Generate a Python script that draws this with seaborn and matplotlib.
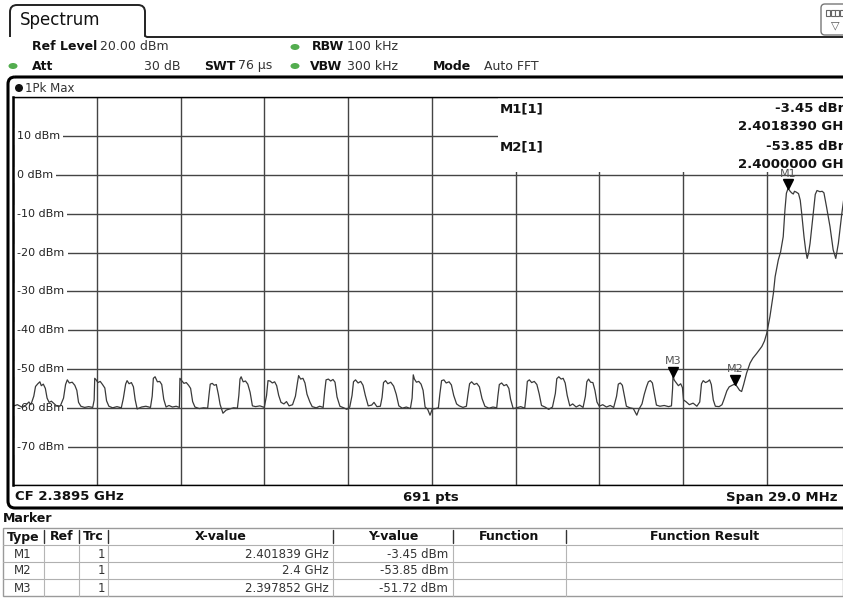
import matplotlib
matplotlib.use("Agg")
import matplotlib.pyplot as plt
import matplotlib.transforms as mtransforms
from matplotlib.patches import FancyBboxPatch, Rectangle, Ellipse, Circle, PathPatch
from matplotlib.path import Path
import numpy as np
import pandas as pd
import seaborn as sns

# ---- sweep settings -------------------------------------------------------
center_ghz = 2.3895
span_mhz = 29.0
ref_level_dbm = 20.0
n_points = 691
level_ticks = [10, 0, -10, -20, -30, -40, -50, -60, -70]

# ---- 1Pk Max trace (MHz, dBm) ---------------------------------------------
freq_mhz = [
    2375.00, 2375.15, 2375.30, 2375.45, 2375.55, 2375.62,
    2375.72, 2375.78, 2375.86, 2375.93, 2375.98, 2376.05, 2376.12, 2376.18, 2376.25, 2376.33, 2376.42, 2376.52, 2376.64,
    2376.75, 2376.82, 2376.88, 2376.95, 2377.05, 2377.14, 2377.21, 2377.27, 2377.35, 2377.48, 2377.62, 2377.76,
    2377.81, 2377.83, 2377.88, 2377.94, 2378.02, 2378.10, 2378.18, 2378.24, 2378.32, 2378.45, 2378.60, 2378.75,
    2378.82, 2378.90, 2378.95, 2379.02, 2379.10, 2379.17, 2379.23, 2379.30, 2379.45, 2379.60, 2379.76,
    2379.82, 2379.86, 2379.92, 2380.00, 2380.08, 2380.15, 2380.22, 2380.30, 2380.40, 2380.52, 2380.65, 2380.76,
    2380.78, 2380.84, 2380.92, 2381.00, 2381.08, 2381.15, 2381.22, 2381.30, 2381.45, 2381.60, 2381.74,
    2381.79, 2381.83, 2381.90, 2381.97, 2382.04, 2382.11, 2382.17, 2382.27, 2382.38, 2382.50, 2382.64, 2382.77,
    2382.82, 2382.86, 2382.90, 2382.97, 2383.05, 2383.13, 2383.21, 2383.29, 2383.40, 2383.55, 2383.70,
    2383.78, 2383.83, 2383.90, 2383.98, 2384.06, 2384.13, 2384.20, 2384.28, 2384.38, 2384.47, 2384.56, 2384.68,
    2384.78, 2384.85, 2384.89, 2384.96, 2385.04, 2385.11, 2385.18, 2385.28, 2385.36, 2385.50, 2385.62, 2385.74,
    2385.79, 2385.84, 2385.92, 2386.00, 2386.08, 2386.15, 2386.22, 2386.32, 2386.45, 2386.56, 2386.66,
    2386.74, 2386.79, 2386.86, 2386.95, 2387.04, 2387.12, 2387.20, 2387.30, 2387.42, 2387.50, 2387.60, 2387.72,
    2387.78, 2387.83, 2387.90, 2387.98, 2388.08, 2388.18, 2388.27, 2388.36, 2388.48, 2388.62, 2388.76,
    2388.82, 2388.86, 2388.90, 2388.97, 2389.05, 2389.13, 2389.20, 2389.27, 2389.36, 2389.44, 2389.52, 2389.64, 2389.73,
    2389.78, 2389.84, 2389.92, 2390.00, 2390.10, 2390.18, 2390.26, 2390.36, 2390.45, 2390.58, 2390.70,
    2390.75, 2390.81, 2390.88, 2390.97, 2391.06, 2391.15, 2391.24, 2391.34, 2391.48, 2391.62, 2391.75,
    2391.79, 2391.84, 2391.92, 2392.00, 2392.09, 2392.17, 2392.23, 2392.32, 2392.44, 2392.58, 2392.72,
    2392.77, 2392.81, 2392.88, 2392.96, 2393.05, 2393.14, 2393.22, 2393.30, 2393.42, 2393.55, 2393.68,
    2393.78, 2393.83, 2393.90, 2393.98, 2394.05, 2394.12, 2394.19, 2394.28, 2394.38, 2394.50, 2394.62, 2394.74,
    2394.82, 2394.87, 2394.93, 2395.00, 2395.08, 2395.15, 2395.22, 2395.30, 2395.42, 2395.55, 2395.68, 2395.80,
    2395.90, 2395.96, 2396.03, 2396.10, 2396.16, 2396.24, 2396.36, 2396.48, 2396.60, 2396.68,
    2396.78, 2396.86, 2396.94, 2397.00, 2397.07, 2397.14, 2397.20, 2397.28, 2397.40, 2397.55, 2397.70, 2397.80,
    2397.84, 2397.852, 2397.90, 2397.97, 2398.04, 2398.12, 2398.18, 2398.22, 2398.30, 2398.42, 2398.55, 2398.68,
    2398.78, 2398.84, 2398.90, 2398.98, 2399.06, 2399.12, 2399.18, 2399.25, 2399.32, 2399.45, 2399.55,
    2399.62, 2399.72, 2399.80, 2399.90, 2400.00, 2400.08, 2400.16, 2400.23, 2400.30, 2400.40, 2400.52,
    2400.62, 2400.75, 2400.93, 2401.02, 2401.10, 2401.21, 2401.33, 2401.39, 2401.50, 2401.58, 2401.67,
    2401.73, 2401.78, 2401.839, 2401.90, 2401.96, 2402.02, 2402.06, 2402.12, 2402.20, 2402.26, 2402.31,
    2402.39, 2402.45, 2402.50, 2402.55, 2402.60, 2402.71, 2402.78, 2402.84, 2402.94, 2403.02, 2403.08,
    2403.17, 2403.29, 2403.40, 2403.49, 2403.58, 2403.70, 2403.78, 2403.86, 2403.95, 2404.00,
]
level_dbm = [
    -59.6, -59.2, -59.8, -59.3, -58.5, -59.2,
    -57.0, -54.5, -53.8, -53.3, -54.3, -53.9, -55.0, -57.5, -58.6, -58.3, -58.9, -59.6, -59.5,
    -57.5, -54.0, -52.8, -53.6, -53.4, -54.2, -55.5, -58.6, -59.6, -59.9, -59.7, -59.9,
    -58.0, -52.4, -52.8, -53.5, -53.2, -54.0, -54.9, -58.2, -59.6, -60.0, -59.7, -60.0,
    -57.6, -53.9, -53.0, -53.8, -53.5, -54.6, -57.9, -60.3, -59.8, -59.6, -59.9,
    -57.0, -52.4, -52.0, -53.3, -53.2, -54.0, -57.8, -59.8, -59.4, -59.8, -59.6, -59.9,
    -52.4, -53.0, -53.7, -53.5, -54.2, -55.0, -58.4, -59.8, -60.2, -60.0, -60.1,
    -56.5, -53.9, -53.7, -54.2, -54.0, -56.5, -59.1, -61.4, -60.6, -60.3, -60.0, -60.1,
    -56.8, -52.6, -52.0, -53.3, -53.1, -53.9, -56.0, -59.5, -59.7, -59.5, -59.9,
    -56.8, -53.0, -53.1, -53.6, -53.3, -54.3, -56.8, -58.6, -59.0, -58.4, -59.5, -59.2,
    -57.0, -53.5, -51.7, -52.6, -52.4, -53.6, -56.5, -58.5, -59.7, -60.0, -59.6, -59.9,
    -56.0, -52.8, -52.6, -53.1, -52.7, -53.4, -57.2, -59.6, -60.0, -60.4, -59.8,
    -56.8, -53.3, -52.8, -53.6, -53.2, -54.2, -56.8, -59.5, -59.3, -58.6, -59.7, -59.6,
    -57.3, -53.5, -53.0, -53.8, -53.4, -54.4, -56.5, -59.5, -60.1, -59.8, -60.2,
    -57.5, -51.5, -52.6, -53.4, -53.2, -53.9, -55.5, -59.8, -60.4, -61.9, -60.3, -60.2, -60.0,
    -56.5, -53.0, -52.8, -53.6, -53.3, -54.1, -56.8, -59.0, -59.5, -59.9, -59.6,
    -56.8, -53.8, -53.3, -54.0, -53.7, -54.6, -57.6, -59.6, -60.1, -59.8, -60.0,
    -57.0, -54.0, -53.6, -54.3, -54.0, -55.0, -57.8, -60.2, -60.0, -59.7, -60.1,
    -56.6, -53.2, -52.8, -53.5, -53.2, -54.0, -56.4, -59.4, -59.8, -60.4, -59.8,
    -56.3, -52.5, -52.0, -52.6, -52.4, -53.6, -56.8, -59.5, -59.0, -59.8, -59.3, -59.9,
    -57.0, -53.3, -52.6, -53.4, -53.5, -55.5, -58.5, -59.6, -59.2, -59.8, -59.4, -59.9,
    -57.0, -53.9, -53.6, -54.2, -56.5, -59.6, -60.0, -60.2, -61.9, -60.3,
    -59.0, -56.5, -54.5, -53.3, -53.0, -53.6, -56.0, -59.3, -59.6, -59.4, -59.7, -59.5,
    -55.0, -51.72, -52.9, -53.6, -54.3, -53.8, -54.8, -58.0, -58.4, -59.2, -58.8, -59.6,
    -58.5, -53.8, -53.0, -53.5, -53.2, -52.8, -54.0, -58.0, -59.6, -59.7, -59.2,
    -57.8, -55.6, -54.6, -54.2, -53.85, -54.6, -55.5, -55.8, -54.0, -51.1, -48.5,
    -47.2, -46.0, -44.2, -42.8, -40.8, -36.5, -30.5, -26.2, -21.9, -19.8, -15.9,
    -9.0, -4.7, -3.45, -4.1, -4.6, -4.9, -4.2, -4.4, -4.8, -6.5, -9.9,
    -15.9, -19.5, -21.5, -20.0, -17.6, -9.9, -5.0, -4.0, -4.3, -4.2, -4.6,
    -8.2, -13.3, -19.3, -21.5, -17.6, -9.9, -5.5, -4.2, -4.4, -4.3,
]

# ---- markers ---------------------------------------------------------------
marker_names = ["M1", "M2", "M3"]
marker_freq_ghz = [2.401839, 2.4, 2.397852]
marker_level_dbm = [-3.45, -53.85, -51.72]
marker_trace = [1, 1, 1]
table_columns = ["Type", "Ref", "Trc", "X-value", "Y-value", "Function", "Function Result"]

# ---- figure ----------------------------------------------------------------
sns.set_theme(style="white")
plt.rcParams["font.family"] = ["DejaVu Sans"]
plt.rcParams["text.color"] = "#111111"

W, H = 843, 603
fig = plt.figure(figsize=(W / 100, H / 100), dpi=100, facecolor="white")

# plot area in pixel coordinates
PX0, PX1, PY0, PY1 = 13.0, 850.5, 97.4, 485.4
ax = fig.add_axes([PX0 / W, 1 - PY1 / H, (PX1 - PX0) / W, (PY1 - PY0) / H])

start_mhz = center_ghz * 1000 - span_mhz / 2
stop_mhz = start_mhz + span_mhz
bottom_dbm = ref_level_dbm - 100

df = pd.DataFrame({"freq": freq_mhz, "level": level_dbm})
sns.lineplot(data=df, x="freq", y="level", ax=ax, color="#3a3a3a",
             linewidth=0.9, estimator=None, sort=False, zorder=2)

ax.set_xlim(start_mhz, stop_mhz)
ax.set_ylim(bottom_dbm, ref_level_dbm)
ax.set_xticks(np.linspace(start_mhz, stop_mhz, 11))
ax.set_yticks(np.arange(bottom_dbm, ref_level_dbm + 1, 10))
ax.tick_params(length=0, labelbottom=False, labelleft=False)
ax.set_xlabel("")
ax.set_ylabel("")
ax.set_axisbelow(True)
ax.grid(True, color="#444444", linewidth=1.0)
for side, sp in ax.spines.items():
    sp.set_color("black")
    sp.set_linewidth(1.0)
ax.spines["right"].set_visible(False)
ax.spines["left"].set_linewidth(1.8)

# level labels sitting on the grid lines
for lv in level_ticks:
    ax.text((17 - PX0) / (PX1 - PX0), lv, f"{lv} dBm", transform=ax.get_yaxis_transform(),
            ha="left", va="center", fontsize=8, color="#222222", zorder=1.5,
            bbox=dict(boxstyle="square,pad=0.3", fc="white", ec="none"))

# blank area carrying the marker readout
ax.add_patch(Rectangle(((498 - PX0) / (PX1 - PX0), (PY1 - 172) / (PY1 - PY0)),
                       1.0, 1.0, transform=ax.transAxes, fc="white", ec="none", zorder=1))

# marker triangles and names
marker_freq_mhz = [f * 1000 for f in marker_freq_ghz]
tri_tf = mtransforms.offset_copy(ax.transData, fig=fig, x=0, y=4, units="dots")
ax.plot(marker_freq_mhz, marker_level_dbm, linestyle="none", marker="v", ms=7,
        color="black", transform=tri_tf, zorder=3, clip_on=False)
for name, f, v in zip(marker_names, marker_freq_mhz, marker_level_dbm):
    ax.annotate(name, (f, v), xytext=(0, 10.5), textcoords="offset points",
                ha="center", va="center", fontsize=8, color="#555555", zorder=3,
                annotation_clip=False)

# ---- surrounding instrument panel (pixel coordinates) ----------------------
ov = fig.add_axes([0, 0, 1, 1], zorder=5)
ov.set_xlim(0, W)
ov.set_ylim(H, 0)
ov.axis("off")
ov.patch.set_alpha(0)

def txt(x, y, s, **kw):
    kw.setdefault("va", "center")
    kw.setdefault("fontsize", 9)
    ov.text(x, y, s, clip_on=False, **kw)

# tab
tab = Path([(10, 37), (10, 12), (10, 5), (17, 5), (138, 5), (145, 5), (145, 12),
            (145, 36), (147, 37), (860, 37)],
           [Path.MOVETO, Path.LINETO, Path.CURVE3, Path.CURVE3, Path.LINETO,
            Path.CURVE3, Path.CURVE3, Path.LINETO, Path.LINETO, Path.LINETO])
ov.add_patch(PathPatch(tab, fc="none", ec="#222222", lw=1.4, clip_on=False))
txt(20, 20, "Spectrum", fontsize=12)

# small view button
ov.add_patch(FancyBboxPatch((821, 4), 32, 31, boxstyle="round,pad=0,rounding_size=4",
                            fc="white", ec="#777777", lw=1.0, clip_on=False))
for gx in (826, 830.5, 835, 839.5):
    ov.add_patch(Rectangle((gx, 10), 4, 6, fc="white", ec="#666666", lw=0.8))
txt(835, 25, "\u25bd", fontsize=8, ha="center", color="#555555")

# settings lines
green = "#53ad4f"
for cx, cy in [(295, 47), (13, 66), (295, 66)]:
    ov.add_patch(Ellipse((cx, cy), 9, 6, fc=green, ec="none"))
txt(32, 47, "Ref Level", fontweight="bold")
txt(100, 47, f"{ref_level_dbm:.2f} dBm", color="#333333")
txt(312, 47, "RBW", fontweight="bold")
txt(347, 47, "100 kHz", color="#333333")
txt(32, 66, "Att", fontweight="bold")
txt(180, 66, "30 dB", ha="right", color="#333333")
txt(204, 66, "SWT", fontweight="bold")
txt(238, 66, "76 \u00b5s", color="#333333")
txt(310, 66, "VBW", fontweight="bold")
txt(347, 66, "300 kHz", color="#333333")
txt(433, 67, "Mode", fontweight="bold")
txt(484, 67, "Auto FFT", color="#333333")

# diagram frame
ov.add_patch(FancyBboxPatch((8, 77), 880, 431, boxstyle="round,pad=0,rounding_size=7",
                            fc="none", ec="black", lw=2.2, clip_on=False))
ov.add_patch(Circle((19, 88), 4, fc="#111111", ec="none"))
txt(25, 88.5, "1Pk Max", fontsize=8.5, color="#333333")

# marker readout
for i in range(2):
    yb = 109 + 38 * i
    txt(500, yb, f"{marker_names[i]}[{marker_trace[i]}]", fontweight="bold", fontsize=9.5)
    txt(851, yb, f"{marker_level_dbm[i]:.2f} dBm", ha="right", fontweight="bold", fontsize=9.5)
    txt(851, yb + 18, f"{marker_freq_ghz[i]:.7f} GHz", ha="right", fontweight="bold", fontsize=9.5)

# footer of the diagram
txt(15, 497, f"CF {center_ghz} GHz", fontweight="bold", fontsize=9.5)
txt(431, 497, f"{n_points} pts", ha="center", fontweight="bold", fontsize=9.5)
txt(838, 497, f"Span {span_mhz:.1f} MHz", ha="right", fontweight="bold", fontsize=9.5)

# marker table
txt(3, 518, "Marker", fontweight="bold", fontsize=9)
row_top, row_h = 528, 17
col_edges = [3, 44, 79, 108, 333, 453, 566, 843]
ov.add_patch(Rectangle((3, row_top), 840, row_h * 4, fc="none", ec="#9a9a9a", lw=1.0))
for k in range(1, 4):
    ov.plot([3, 843], [row_top + row_h * k] * 2, color="#b0b0b0", lw=0.8)
for xe in col_edges[1:-1]:
    ov.plot([xe, xe], [row_top + 2, row_top + row_h - 2], color="#333333", lw=1.0)
    ov.plot([xe, xe], [row_top + row_h, row_top + row_h * 4], color="#b5b5b5", lw=0.8)
for name, a, b in zip(table_columns, col_edges[:-1], col_edges[1:]):
    txt((a + b) / 2, row_top + row_h / 2 + 0.5, name, ha="center", fontweight="bold", fontsize=9)

def short_ghz(v):
    return f"{v:.6f}".rstrip("0").rstrip(".")

for i, name in enumerate(marker_names):
    yc = row_top + row_h * (i + 1) + row_h / 2 + 0.5
    txt(23, yc, name, ha="center", fontsize=8.5, color="#333333")
    txt(105, yc, str(marker_trace[i]), ha="right", fontsize=8.5, color="#333333")
    txt(329, yc, f"{short_ghz(marker_freq_ghz[i])} GHz", ha="right", fontsize=8.5, color="#333333")
    txt(448, yc, f"{marker_level_dbm[i]:.2f} dBm", ha="right", fontsize=8.5, color="#333333")

fig.savefig("out.png", dpi=100, facecolor="white")
